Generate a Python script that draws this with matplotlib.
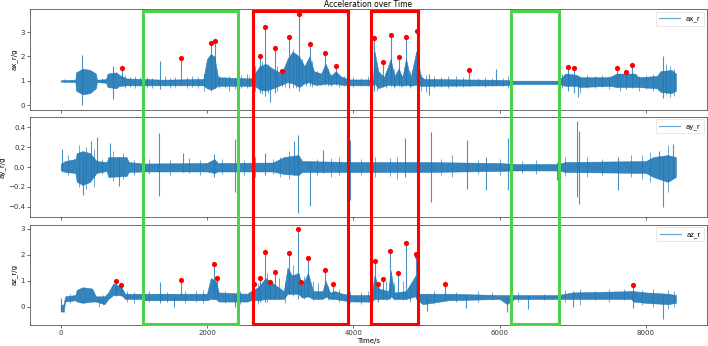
import matplotlib
matplotlib.use("Agg")
import matplotlib.pyplot as plt
import matplotlib.transforms as mtransforms
from matplotlib.patches import Rectangle

# ---- ax_r : envelope of the dense signal (time, lower, upper) ----
ax_t = [0, 200, 210, 300, 400, 480, 495, 620, 640, 760, 800, 830, 900, 1130, 1400, 1950,
        2000, 2050, 2100, 2150, 2600, 2650, 2720, 2800, 2900, 3020, 3100, 3170, 3260, 3330,
        3400, 3460, 3560, 3620, 3690, 3760, 3820, 3930, 4270, 4290, 4340, 4420, 4510, 4560,
        4620, 4670, 4720, 4780, 4860, 4920, 4970, 6100, 6200, 6800, 6900, 7050, 7100, 7500,
        7600, 7850, 7900, 8150, 8200, 8350, 8410]
ax_lo = [0.97, 0.95, 0.6, 0.45, 0.5, 0.7, 0.95, 0.93, 0.75, 0.7, 0.8, 0.8, 0.82, 0.82, 0.82, 0.82,
         0.7, 0.65, 0.7, 0.8, 0.8, 0.8, 0.65, 0.6, 0.7, 0.85, 0.95, 0.9, 0.75, 0.9,
         0.95, 0.85, 0.85, 0.9, 0.85, 0.9, 0.85, 0.82, 0.82, 0.9, 0.7, 0.8, 0.85, 0.8,
         0.85, 0.8, 0.85, 0.8, 0.85, 0.8, 0.8, 0.82, 0.87, 0.87, 0.8, 0.8, 0.75, 0.8,
         0.75, 0.75, 0.75, 0.7, 0.55, 0.5, 0.6]
ax_hi = [1.03, 1.05, 1.35, 1.5, 1.45, 1.3, 1.05, 1.07, 1.3, 1.35, 1.25, 1.2, 1.1, 1.08, 1.05, 1.08,
         1.9, 2.1, 2.0, 1.15, 1.1, 1.3, 1.6, 1.7, 1.5, 1.3, 1.9, 2.2, 2.0, 1.6,
         2.0, 1.4, 1.3, 1.7, 1.2, 1.4, 1.2, 1.06, 1.06, 2.2, 1.4, 1.15, 1.9, 1.2,
         1.5, 1.15, 1.9, 1.1, 2.2, 1.2, 1.08, 1.04, 1.01, 1.01, 1.3, 1.25, 1.15, 1.15,
         1.3, 1.3, 1.15, 1.2, 1.4, 1.45, 1.3]
# narrow spikes (time, lower, upper)
ax_sp_t = [290, 715, 843, 1353, 1649, 2054, 2109, 2724, 2796, 2860, 2924, 3019, 3124, 3251,
           3402, 3612, 3762, 4285, 4399, 4513, 4623, 4723, 4869, 5030, 5588, 5950, 6940,
           7013, 7069, 7601, 7732, 7814, 8240]
ax_sp_lo = [0.0, 0.25, 0.9, 0.65, 0.85, 0.6, 0.7, 0.5, 0.4, 0.15, 0.5, 0.8, 0.7, 0.6,
            0.8, 0.85, 0.85, 0.6, 0.75, 0.8, 0.8, 0.8, 0.75, 0.42, 0.8, 0.85, 0.6,
            0.5, 0.35, 0.75, 0.65, 0.7, 0.3]
ax_sp_hi = [2.05, 1.6, 1.54, 1.81, 1.95, 2.56, 2.62, 2.0, 3.22, 1.5, 2.33, 1.39, 2.8, 3.74,
            2.51, 2.16, 1.6, 2.77, 1.77, 2.86, 1.96, 2.81, 3.06, 1.3, 1.43, 1.5, 1.56,
            1.51, 1.2, 1.53, 1.35, 1.66, 2.02]
# small excursions along the band
ax_fn_t = [50, 120, 560, 600, 880, 950, 1010, 1080, 1180, 1250, 1420, 1500, 1560, 1720, 1800,
           1880, 1960, 2170, 2240, 2300, 2380, 2460, 2540, 2580, 2660, 2750, 2830, 2960, 3060,
           3180, 3210, 3300, 3350, 3440, 3500, 3650, 3700, 3800, 3870, 4000, 4100, 4200, 4320,
           4450, 4560, 4650, 4780, 4920, 5000, 5100, 5200, 5300, 5400, 5500, 5700, 5800, 5900,
           6050, 6120, 6850, 7100, 7200, 7300, 7400, 7500, 7650, 7900, 8000, 8100, 8280, 8330,
           8380]
ax_fn_lo = [0.95, 0.94, 0.9, 0.92, 0.7, 0.75, 0.72, 0.78, 0.75, 0.72, 0.78, 0.7, 0.75, 0.72, 0.76,
            0.7, 0.6, 0.7, 0.72, 0.6, 0.65, 0.7, 0.7, 0.75, 0.6, 0.45, 0.5, 0.6, 0.75,
            0.7, 0.7, 0.8, 0.8, 0.75, 0.8, 0.8, 0.8, 0.75, 0.8, 0.75, 0.8, 0.78, 0.6,
            0.7, 0.7, 0.75, 0.7, 0.6, 0.55, 0.7, 0.75, 0.7, 0.75, 0.75, 0.8, 0.75, 0.8,
            0.8, 0.7, 0.7, 0.5, 0.7, 0.7, 0.75, 0.65, 0.6, 0.6, 0.65, 0.6, 0.45, 0.35,
            0.4]
ax_fn_hi = [1.06, 1.05, 1.1, 1.08, 1.25, 1.15, 1.2, 1.15, 1.15, 1.1, 1.2, 1.12, 1.18, 1.15, 1.22,
            1.15, 1.3, 1.2, 1.15, 1.2, 1.1, 1.25, 1.3, 1.2, 1.6, 1.8, 1.7, 1.6, 1.5,
            2.3, 2.1, 1.9, 1.6, 1.8, 1.4, 1.5, 1.3, 1.3, 1.2, 1.15, 1.1, 1.2, 1.6,
            1.4, 1.5, 1.3, 1.4, 1.3, 1.25, 1.2, 1.15, 1.2, 1.2, 1.15, 1.1, 1.15, 1.1,
            1.1, 1.2, 1.3, 1.2, 1.25, 1.2, 1.25, 1.2, 1.3, 1.2, 1.25, 1.3, 1.7, 1.6,
            1.5]
# detected peaks
ax_pk_t = [843, 1649, 2054, 2109, 2724, 2796, 2924, 3019, 3124, 3251, 3402, 3612, 3762,
           4285, 4399, 4513, 4623, 4723, 4869, 5588, 6940, 7013, 7601, 7732, 7814]
ax_pk_v = [1.54, 1.95, 2.56, 2.62, 2.0, 3.22, 2.33, 1.39, 2.8, 3.74, 2.51, 2.16, 1.6,
           2.77, 1.77, 2.86, 1.96, 2.81, 3.06, 1.43, 1.56, 1.51, 1.53, 1.35, 1.66]

# ---- ay_r ----
ay_t = [0, 60, 200, 220, 300, 400, 490, 630, 650, 900, 930, 1130, 2000, 2100, 2150, 2900,
        3050, 3250, 3300, 4000, 5000, 6000, 6200, 6800, 6900, 8000, 8100, 8300, 8410]
ay_lo = [-0.03, -0.05, -0.06, -0.15, -0.18, -0.15, -0.06, -0.04, -0.1, -0.09, -0.05, -0.045,
         -0.045, -0.06, -0.045, -0.045, -0.07, -0.08, -0.05, -0.05, -0.05, -0.04, -0.035,
         -0.035, -0.05, -0.06, -0.1, -0.15, -0.1]
ay_hi = [0.03, 0.06, 0.08, 0.14, 0.16, 0.14, 0.06, 0.05, 0.1, 0.1, 0.05, 0.035, 0.04, 0.08,
         0.04, 0.045, 0.1, 0.12, 0.06, 0.05, 0.05, 0.04, 0.03, 0.03, 0.05, 0.06, 0.1, 0.12, 0.1]
ay_sp_t = [18, 300, 410, 490, 680, 795, 1125, 1343, 1670, 2090, 2386, 2796, 3183, 3242,
           3402, 3584, 3958, 4709, 4869, 5060, 5552, 5814, 6116, 6790, 7054, 7082, 7623,
           8174, 8238, 8366]
ay_sp_lo = [-0.05, -0.28, -0.1, -0.05, -0.1, -0.19, -0.13, -0.29, -0.05, -0.1, -0.25, -0.08,
            -0.08, -0.46, -0.39, -0.06, -0.33, -0.1, -0.15, -0.35, -0.22, -0.23, -0.23,
            -0.13, -0.3, -0.37, -0.23, -0.1, -0.4, -0.1]
ay_sp_hi = [0.18, 0.1, 0.26, 0.3, 0.24, 0.1, 0.05, 0.34, 0.14, 0.13, 0.28, 0.14, 0.26, 0.32,
            0.05, 0.17, 0.27, 0.29, 0.12, 0.35, 0.27, 0.1, 0.29, 0.05, 0.46, 0.36, 0.1,
            0.16, 0.1, 0.23]
ay_fn_t = [100, 250, 350, 450, 560, 720, 850, 1000, 1200, 1500, 1750, 1900, 2200, 2500, 2650,
           2900, 3000, 3120, 3500, 3700, 3800, 4100, 4300, 4500, 4600, 4900, 5200, 5350, 5700,
           6000, 6300, 6500, 6900, 7200, 7400, 7800, 7950, 8050, 8300]
ay_fn_lo = [-0.08, -0.2, -0.22, -0.2, -0.07, -0.14, -0.12, -0.08, -0.07, -0.08, -0.06, -0.08,
            -0.07, -0.08, -0.1, -0.07, -0.1, -0.12, -0.08, -0.1, -0.08, -0.08, -0.1, -0.09,
            -0.12, -0.1, -0.08, -0.1, -0.07, -0.08, -0.06, -0.07, -0.09, -0.1, -0.08, -0.1,
            -0.12, -0.15, -0.25]
ay_fn_hi = [0.12, 0.22, 0.2, 0.18, 0.08, 0.16, 0.14, 0.07, 0.08, 0.07, 0.09, 0.07, 0.08, 0.07,
            0.1, 0.08, 0.1, 0.16, 0.08, 0.09, 0.1, 0.08, 0.1, 0.09, 0.1, 0.1, 0.08, 0.12,
            0.07, 0.08, 0.06, 0.07, 0.1, 0.1, 0.08, 0.12, 0.12, 0.15, 0.22]

# ---- az_r ----
az_t = [0, 40, 60, 200, 220, 300, 430, 480, 600, 650, 720, 830, 880, 1100, 1130, 2000,
        2050, 2120, 2160, 2550, 2600, 2700, 2800, 2900, 3050, 3100, 3160, 3250, 3300, 3380,
        3450, 3580, 3620, 3680, 3750, 3850, 4000, 4250, 4290, 4350, 4480, 4510, 4560, 4720,
        4850, 4900, 4950, 5300, 6000, 6100, 6200, 6800, 7000, 7800, 7830, 8000, 8300, 8410]
az_lo = [-0.15, -0.2, 0.2, 0.25, 0.2, 0.15, 0.2, 0.2, 0.1, 0.3, 0.45, 0.45, 0.3, 0.3, 0.25, 0.25,
         0.3, 0.3, 0.2, 0.2, 0.25, 0.25, 0.3, 0.3, 0.3, 0.5, 0.5, 0.5, 0.35, 0.4,
         0.3, 0.3, 0.4, 0.3, 0.3, 0.25, 0.2, 0.2, 0.3, 0.3, 0.3, 0.4, 0.3, 0.3,
         0.4, 0.2, 0.1, 0.25, 0.3, 0.1, 0.3, 0.3, 0.3, 0.3, 0.2, 0.15, 0.1, 0.15]
az_hi = [0.05, 0.1, 0.4, 0.45, 0.65, 0.75, 0.7, 0.4, 0.4, 0.55, 0.9, 0.75, 0.5, 0.5, 0.5, 0.5,
         1.1, 1.0, 0.55, 0.5, 0.6, 0.75, 1.1, 0.9, 0.6, 1.5, 1.2, 1.3, 0.8, 1.3,
         0.6, 0.6, 1.0, 0.55, 0.6, 0.5, 0.45, 0.45, 1.2, 0.7, 0.6, 1.4, 0.55, 0.6,
         1.2, 0.5, 0.5, 0.5, 0.45, 0.45, 0.45, 0.45, 0.55, 0.6, 0.6, 0.55, 0.5, 0.45]
az_sp_t = [10, 761, 825, 1128, 1353, 1550, 1649, 2095, 2131, 2380, 2646, 2724, 2787, 2860,
           2924, 3124, 3247, 3288, 3374, 3616, 3725, 4295, 4336, 4399, 4508, 4617, 4727,
           4855, 4869, 5014, 5260, 5542, 6104, 6390, 7000, 7824, 7830, 8238]
az_sp_lo = [-0.2, 0.4, 0.4, -0.2, 0.15, 0.0, 0.3, 0.3, 0.3, 0.0, 0.2, 0.2, 0.2, 0.3,
            0.3, 0.5, 0.3, 0.4, 0.4, 0.35, 0.35, 0.3, 0.2, 0.3, 0.3, 0.3, 0.3,
            0.3, 0.3, -0.15, 0.3, -0.05, -0.2, -0.1, 0.0, 0.3, -0.05, -0.49]
az_sp_hi = [0.35, 0.99, 0.82, 0.4, 0.95, 0.4, 1.03, 1.63, 1.1, 0.45, 0.86, 1.12, 2.1, 0.97,
            1.32, 2.08, 2.99, 0.96, 1.88, 1.41, 0.88, 1.76, 0.86, 1.05, 2.14, 1.28, 2.44,
            2.01, 1.97, 0.4, 0.87, 0.4, 0.4, 0.4, 0.6, 0.83, 0.6, 0.4]
az_fn_t = [120, 520, 580, 900, 1000, 1200, 1450, 1700, 1850, 1950, 2250, 2450, 2700, 2820,
           2980, 3060, 3180, 3320, 3450, 3520, 3660, 3800, 3950, 4100, 4200, 4450, 4560, 4680,
           4780, 5100, 5400, 5700, 5900, 6250, 6600, 6900, 7100, 7300, 7500, 7700, 7950,
           8100, 8300, 8380]
az_fn_lo = [0.15, 0.0, 0.05, 0.2, 0.15, 0.2, 0.2, 0.15, 0.2, 0.15, 0.15, 0.1, 0.1, 0.2,
            0.3, 0.15, 0.4, 0.3, 0.25, 0.3, 0.25, 0.2, 0.15, 0.1, 0.2, 0.25, 0.25, 0.25,
            0.2, 0.1, 0.2, 0.2, 0.25, 0.2, 0.25, 0.2, 0.05, 0.25, 0.2, 0.25, 0.05,
            0.0, -0.1, 0.0]
az_fn_hi = [0.5, 0.4, 0.45, 0.6, 0.55, 0.6, 0.55, 0.6, 0.6, 0.65, 0.6, 0.6, 0.9, 1.3,
            1.1, 0.9, 1.6, 1.2, 1.0, 0.9, 0.8, 0.7, 0.6, 0.55, 0.6, 1.0, 0.9, 1.0,
            0.8, 0.6, 0.55, 0.6, 0.55, 0.55, 0.5, 0.65, 0.7, 0.6, 0.7, 0.7, 0.65,
            0.7, 0.65, 0.6]
az_pk_t = [761, 825, 1649, 2095, 2131, 2646, 2724, 2787, 2860, 2924, 3124, 3247, 3288, 3374,
           3616, 3725, 4295, 4336, 4399, 4508, 4617, 4727, 4855, 4869, 5260, 7824]
az_pk_v = [0.99, 0.82, 1.03, 1.63, 1.1, 0.86, 1.12, 2.1, 0.97, 1.32, 2.08, 2.99, 0.96, 1.88,
           1.41, 0.88, 1.76, 0.86, 1.05, 2.14, 1.28, 2.44, 2.01, 1.97, 0.87, 0.83]

# highlighted windows (start, end) in seconds
red_windows = [(2628, 3926), (4245, 4891)]
green_windows = [(1130, 2424), (6161, 6809)]

BLUE = '#1f77b4'


def draw_signal(ax, t, lo, hi, sp, fn, label):
    ax.fill_between(t, lo, hi, color=BLUE, lw=0.4, alpha=0.9)
    ax.vlines(fn[0], fn[1], fn[2], color=BLUE, lw=0.6, alpha=0.75)
    ax.vlines(sp[0], sp[1], sp[2], color=BLUE, lw=0.8, alpha=0.8)
    ax.plot([], [], color=BLUE, lw=0.8, alpha=0.7, label=label)


def style(ax, ylabel, ylim, yticks):
    ax.set_xlim(-420, 8831)
    ax.set_ylim(*ylim)
    ax.set_yticks(yticks)
    ax.set_xticks([0, 2000, 4000, 6000, 8000])
    ax.set_ylabel(ylabel, fontsize=5, labelpad=2)
    ax.tick_params(labelsize=5, length=2, width=0.5, pad=1.5, colors='#333333')
    for s in ax.spines.values():
        s.set_linewidth(0.6)
        s.set_color('#555555')
    leg = ax.legend(loc='upper right', fontsize=5, handlelength=3, borderpad=0.5,
                    framealpha=0.8, borderaxespad=0.4)
    leg.get_frame().set_linewidth(0.4)


fig = plt.figure(figsize=(7.08, 3.46), dpi=100)
W, H = 708, 346
L, R = 30, 706.7
ax1 = fig.add_axes([L / W, 1 - 110 / H, (R - L) / W, 100.7 / H])
ax2 = fig.add_axes([L / W, 1 - 217.3 / H, (R - L) / W, 100.6 / H], sharex=ax1)
ax3 = fig.add_axes([L / W, 1 - 324.7 / H, (R - L) / W, 100 / H], sharex=ax1)

draw_signal(ax1, ax_t, ax_lo, ax_hi, (ax_sp_t, ax_sp_lo, ax_sp_hi),
            (ax_fn_t, ax_fn_lo, ax_fn_hi), 'ax_r')
ax1.scatter(ax_pk_t, ax_pk_v, color='red', s=14, zorder=5, linewidths=0)
draw_signal(ax2, ay_t, ay_lo, ay_hi, (ay_sp_t, ay_sp_lo, ay_sp_hi),
            (ay_fn_t, ay_fn_lo, ay_fn_hi), 'ay_r')
draw_signal(ax3, az_t, az_lo, az_hi, (az_sp_t, az_sp_lo, az_sp_hi),
            (az_fn_t, az_fn_lo, az_fn_hi), 'az_r')
ax3.scatter(az_pk_t, az_pk_v, color='red', s=14, zorder=5, linewidths=0)

style(ax1, 'ax_r/g', (-0.19, 3.93), [0, 1, 2, 3])
style(ax2, 'ay_r/g', (-0.507, 0.507), [-0.4, -0.2, 0.0, 0.2, 0.4])
style(ax3, 'az_r/g', (-0.69, 3.154), [0, 1, 2, 3])
ax1.tick_params(labelbottom=False)
ax2.tick_params(labelbottom=False)
ax1.set_title('Acceleration over Time', fontsize=5.5, pad=1.5)
ax3.set_xlabel('Time/s', fontsize=5, labelpad=1.5)

# boxes spanning all three panels
trans = mtransforms.blended_transform_factory(ax3.transData, fig.transFigure)
y0, y1 = 1 - 323.5 / H, 1 - 10.7 / H
for windows, col in [(green_windows, '#4dd24d'), (red_windows, '#ff0000')]:
    for a, b in windows:
        fig.add_artist(Rectangle((a, y0), b - a, y1 - y0, transform=trans,
                                 fill=False, ec=col, lw=2.2, zorder=10))

fig.savefig('out.png', dpi=100)
